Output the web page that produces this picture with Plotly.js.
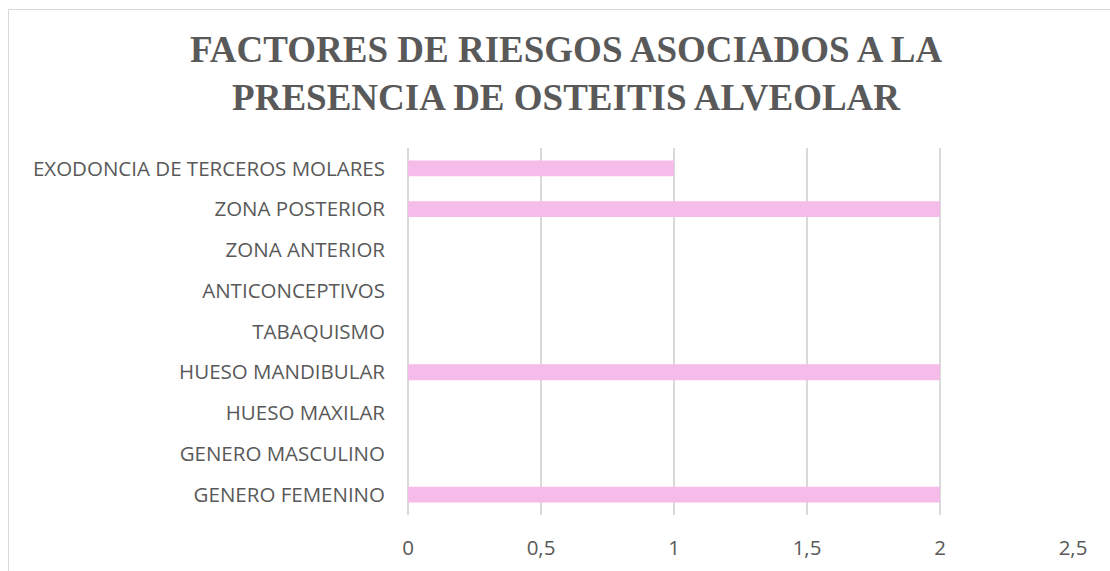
<!DOCTYPE html>
<html>
<head>
<meta charset="utf-8">
<script src="https://cdn.plot.ly/plotly-3.0.1.min.js"></script>
<style>
  html, body { margin: 0; padding: 0; background: #ffffff; }
  #frame { position: absolute; left: 0; top: 0; width: 1110px; height: 571px; overflow: hidden; }
  #border { position: absolute; left: 8px; top: 9px; width: 1200px; height: 700px; border-left: 1.5px solid #d9d9d9; border-top: 1.5px solid #d9d9d9; pointer-events: none; }
  #chart { position: absolute; left: 0; top: 0; width: 1110px; height: 571px; }
</style>
</head>
<body>
<div id="frame">
  <div id="chart"></div>
  <div id="border"></div>
</div>
<script>
const categories = [
  "GENERO FEMENINO",
  "GENERO MASCULINO",
  "HUESO MAXILAR",
  "HUESO MANDIBULAR",
  "TABAQUISMO",
  "ANTICONCEPTIVOS",
  "ZONA ANTERIOR",
  "ZONA POSTERIOR",
  "EXODONCIA DE TERCEROS MOLARES"
];
const values = [2, 0, 0, 2, 0, 0, 0, 2, 1];
const xTickValues = [0, 0.5, 1, 1.5, 2, 2.5];
const xTickLabels = ["0", "0,5", "1", "1,5", "2", "2,5"];
const chartTitle = "FACTORES DE RIESGOS ASOCIADOS A LA<br>PRESENCIA DE OSTEITIS ALVEOLAR";

const trace = {
  type: "bar",
  orientation: "h",
  y: categories,
  x: values,
  marker: { color: "#F5BBE9" },
  hoverinfo: "x+y"
};

const layout = {
  width: 1110,
  height: 571,
  paper_bgcolor: "rgba(0,0,0,0)",
  plot_bgcolor: "rgba(0,0,0,0)",
  margin: { l: 408, r: 37, t: 148, b: 56 },
  bargap: 0.61,
  showlegend: false,
  font: { family: "Open Sans, sans-serif", color: "#595959", size: 20.5 },
  title: {
    text: chartTitle,
    font: { family: "Liberation Serif, Times New Roman, serif", size: 37, color: "#595959", weight: "bold" },
    x: 0.51,
    xref: "container",
    xanchor: "center",
    y: 0.891,
    yref: "container",
    yanchor: "middle"
  },
  xaxis: {
    range: [0, 2.5],
    tickvals: xTickValues,
    ticktext: xTickLabels,
    showgrid: true,
    gridcolor: "#d9d9d9",
    gridwidth: 1.5,
    zeroline: true,
    zerolinecolor: "#d9d9d9",
    zerolinewidth: 1.5,
    showline: false,
    ticks: "",
    ticklabelstandoff: 18,
    tickfont: { size: 20.5, color: "#595959" },
    fixedrange: true
  },
  yaxis: {
    type: "category",
    categoryorder: "array",
    categoryarray: categories,
    showgrid: false,
    zeroline: false,
    showline: false,
    ticks: "",
    ticklabelstandoff: 22,
    tickfont: { size: 20.5, color: "#595959" },
    fixedrange: true
  }
};

Plotly.newPlot("chart", [trace], layout, { displayModeBar: false, staticPlot: true });
</script>
</body>
</html>
